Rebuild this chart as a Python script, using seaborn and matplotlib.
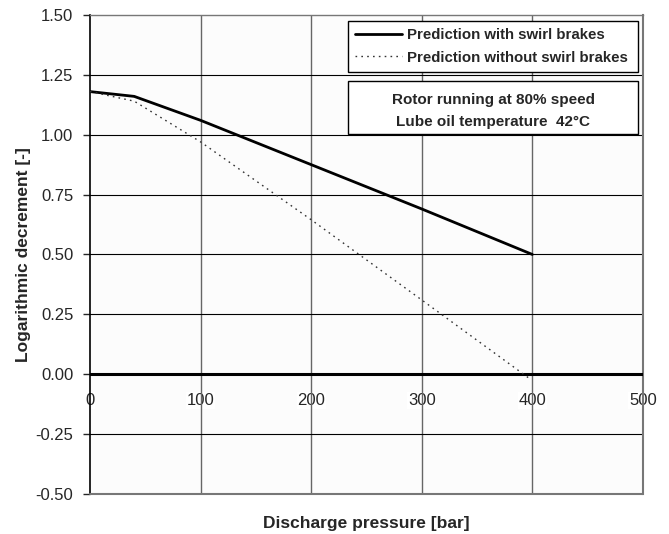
import numpy as np
import pandas as pd
import matplotlib
matplotlib.use("Agg")
import matplotlib.pyplot as plt
from matplotlib.patches import Rectangle
import seaborn as sns

# values
pressure_with = [0, 40, 100, 200, 300, 400]
logdec_with = [1.18, 1.16, 1.06, 0.875, 0.69, 0.50]
pressure_without = [0, 40, 100, 200, 300, 398]
logdec_without = [1.18, 1.14, 0.97, 0.645, 0.31, -0.02]
x_ticks = [0, 100, 200, 300, 400, 500]
y_ticks = [-0.50, -0.25, 0.00, 0.25, 0.50, 0.75, 1.00, 1.25, 1.50]

sns.set_style("white")
plt.rcParams['font.family'] = ['Liberation Sans', 'DejaVu Sans']

df_with = pd.DataFrame({'p': pressure_with, 'd': logdec_with})
df_without = pd.DataFrame({'p': pressure_without, 'd': logdec_without})

fig = plt.figure(figsize=(6.69, 5.34), dpi=100)
ax = fig.add_axes([0.1345, 0.075, 0.8265, 0.897])
ax.set_facecolor('#fcfcfc')

sns.lineplot(data=df_with, x='p', y='d', ax=ax, color='black', lw=2.0,
             label='Prediction with swirl brakes', zorder=4)
sns.lineplot(data=df_without, x='p', y='d', ax=ax, color='#333333', lw=1.0,
             ls=(0, (1.2, 3)), label='Prediction without swirl brakes', zorder=4)

ax.set_xlim(0, 500)
ax.set_ylim(-0.5, 1.5)
ax.set_yticks(y_ticks)
ax.set_yticklabels([f'{v:.2f}' for v in y_ticks], fontsize=12)
ax.set_xticks(x_ticks)

# grid: vertical gray, horizontal black
for xv in x_ticks[1:]:
    ax.axvline(xv, color='#666666', lw=1.0, zorder=1)
for yv in y_ticks[1:-1]:
    ax.axhline(yv, color='black', lw=0.8, zorder=1)
ax.axhline(0, color='black', lw=2.2, zorder=3)

# x tick labels sit under the zero line
ax.spines['bottom'].set_position(('data', 0))
ax.spines['bottom'].set_visible(False)
ax.tick_params(axis='x', length=0, pad=13.5, labelsize=12)
for t in ax.get_xticklabels():
    t.set_bbox(dict(facecolor='white', edgecolor='none', pad=0.5))
    t.set_zorder(5)
ax.axhline(-0.5, color='#777777', lw=1.5, zorder=3, clip_on=False)

ax.tick_params(axis='y', length=5, width=1, direction='out', pad=7, left=True)
ax.spines['left'].set_color('black')
ax.spines['left'].set_linewidth(1.2)
ax.spines['right'].set_color('#777777')
ax.spines['right'].set_linewidth(1.5)
ax.spines['top'].set_color('#777777')
ax.spines['top'].set_linewidth(1.0)

ax.set_xlabel('Discharge pressure [bar]', fontsize=12.5, fontweight='bold')
ax.xaxis.set_label_coords(0.5, -0.045)
ax.set_ylabel('Logarithmic decrement [-]', fontsize=12.5, fontweight='bold', labelpad=3)

leg = ax.legend(loc='upper left', bbox_to_anchor=(0.4665, 0.8875, 0.5245, 0.1),
                mode='expand', frameon=True, fancybox=False, edgecolor='black',
                framealpha=1, prop={'weight': 'bold', 'size': 10.8},
                handlelength=3.1, handletextpad=0.35, borderaxespad=0,
                borderpad=0.5, labelspacing=0.55)
leg.get_frame().set_linewidth(1.0)
leg.set_zorder(6)

# second info box
ax.add_patch(Rectangle((0.4665, 0.752), 0.5245, 0.11, transform=ax.transAxes,
                       facecolor='white', edgecolor='black', lw=1.0, zorder=6))
ax.text(0.729, 0.80, 'Rotor running at 80% speed\nLube oil temperature  42°C',
        transform=ax.transAxes, ha='center', va='center', fontsize=11,
        fontweight='bold', linespacing=1.7, zorder=7)

plt.savefig('out.png', dpi=100)
